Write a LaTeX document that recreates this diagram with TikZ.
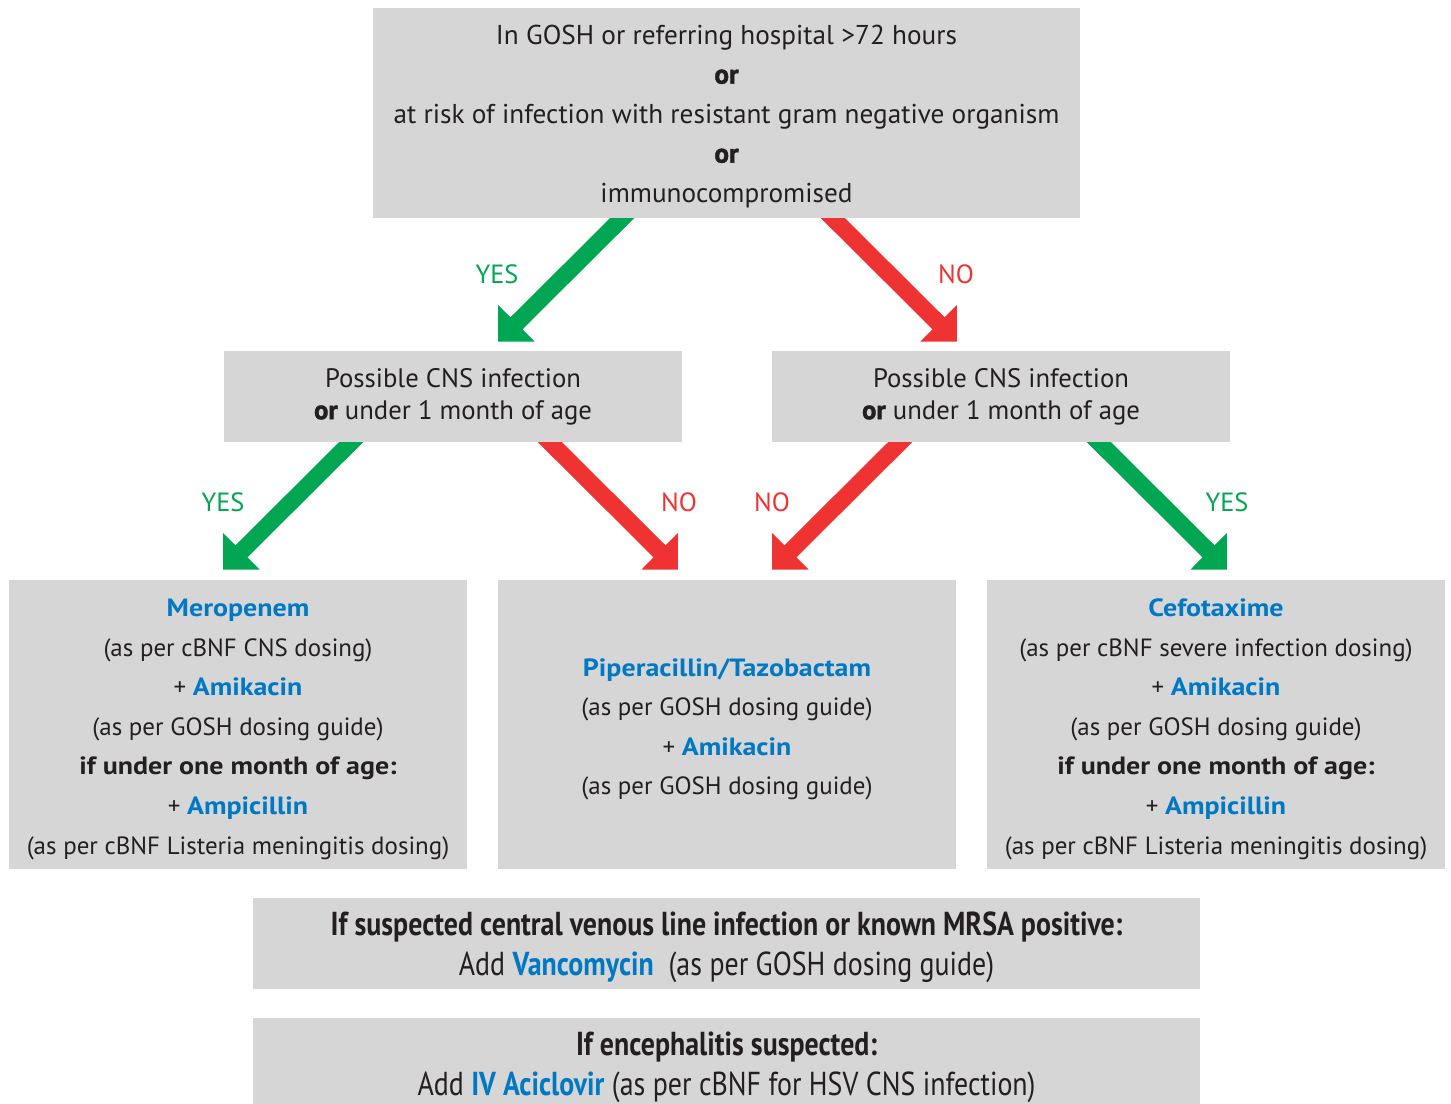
\documentclass[tikz,border=0pt]{standalone}
\usepackage{fontspec}
\setmainfont{PT Sans}
\newfontfamily\condfont[FakeStretch=0.84]{PT Sans}
\newfontfamily\widefont[FakeStretch=1.12]{PT Sans}
\newfontfamily\heavyfont[BoldFeatures={FakeBold=1.6}]{PT Sans}
\usetikzlibrary{arrows.meta,backgrounds}

\definecolor{boxgray}{RGB}{214,214,214}
\definecolor{yesgreen}{RGB}{0,166,81}
\definecolor{nored}{RGB}{239,50,50}
\definecolor{drugblue}{RGB}{0,120,195}
\definecolor{txt}{RGB}{35,31,32}
\newcommand{\drug}[1]{\textcolor{drugblue}{\widefont\bfseries #1}}
\newcommand{\boldline}[1]{{\widefont\bfseries #1}}
\newcommand{\heavyor}{{\heavyfont\bfseries or}}
\newcommand{\topgap}[1]{\rule{0pt}{#1}}

\begin{document}
\begin{tikzpicture}[x=0.02cm, y=-0.02cm,
  every node/.style={text=txt, font=\fontsize{14.2}{22.5}\selectfont},
  box/.style={fill=boxgray, inner sep=0pt, align=center},
  yesarrow/.style={draw=yesgreen, line width=0.34cm, -{Triangle[length=0.52cm, width=1.0cm]}},
  noarrow/.style={draw=nored, line width=0.34cm, -{Triangle[length=0.52cm, width=1.0cm]}},
  yeslabel/.style={text=yesgreen, font=\fontsize{15}{18}\selectfont},
  nolabel/.style={text=nored, font=\fontsize{15}{18}\selectfont}]

\useasboundingbox (0,0) rectangle (1451,1104);

% Question
\node[box, minimum width=14.14cm, minimum height=4.2cm, font=\fontsize{15.5}{22.5}\selectfont] (risk) at (726.5,113)
  {\topgap{14.6pt}In GOSH or referring hospital >72 hours\\ \heavyor\\
   at risk of infection with resistant gram negative organism\\ \heavyor\\
   immunocompromised};

% CNS questions
\node[box, minimum width=9.16cm, minimum height=1.82cm, font=\fontsize{15.2}{18.2}\selectfont] (cnsL) at (453,396.5)
  {Possible CNS infection\\ \heavyor{} under 1 month of age};
\node[box, minimum width=9.16cm, minimum height=1.82cm, font=\fontsize{15.2}{18.2}\selectfont] (cnsR) at (1001,396.5)
  {Possible CNS infection\\ \heavyor{} under 1 month of age};

% Treatments
\node[box, minimum width=9.16cm, minimum height=5.78cm] (merop) at (238,724.5)
  {\topgap{15.6pt}\drug{Meropenem}\\ (as per cBNF CNS dosing)\\ + \drug{Amikacin}\\
   (as per GOSH dosing guide)\\ \boldline{if under one month of age:}\\
   + \drug{Ampicillin}\\ (as per cBNF Listeria meningitis dosing)};
\node[box, minimum width=9.16cm, minimum height=5.78cm] (pip) at (727,724.5)
  {\topgap{15.8pt}\drug{Piperacillin/Tazobactam}\\ (as per GOSH dosing guide)\\
   + \drug{Amikacin}\\ (as per GOSH dosing guide)};
\node[box, minimum width=9.16cm, minimum height=5.78cm] (cefo) at (1216,724.5)
  {\topgap{15.6pt}\drug{Cefotaxime}\\ (as per cBNF severe infection dosing)\\ + \drug{Amikacin}\\
   (as per GOSH dosing guide)\\ \boldline{if under one month of age:}\\
   + \drug{Ampicillin}\\ (as per cBNF Listeria meningitis dosing)};

% Additions
\node[box, minimum width=18.94cm, minimum height=1.82cm, font=\condfont\fontsize{18.9}{22.8}\selectfont] (vanco) at (726.5,943.5)
  {\topgap{18.2pt}\textbf{If suspected central venous line infection or known MRSA positive:}\\
   Add \textcolor{drugblue}{\textbf{Vancomycin}}\ \ (as per GOSH dosing guide)};
\node[box, minimum width=18.94cm, minimum height=1.82cm, font=\condfont\fontsize{18.9}{22.8}\selectfont] (acic) at (726.5,1063.5)
  {\topgap{18.2pt}\textbf{If encephalitis suspected:}\\
   Add \textcolor{drugblue}{\textbf{IV Aciclovir}} (as per cBNF for HSV CNS infection)};

% Arrows
\begin{scope}[on background layer]
\draw[yesarrow] ([shift={(-95.5,-9)}]risk.south) -- ([shift={(45,-9)}]cnsL.north);
\draw[noarrow] ([shift={(97.5,-9)}]risk.south) -- ([shift={(-44,-9)}]cnsR.north);
\draw[yesarrow] ([shift={(-93,-9)}]cnsL.south) -- ([shift={(-15,-10)}]merop.north);
\draw[noarrow] ([shift={(88,-9)}]cnsL.south) -- ([shift={(-49,-10)}]pip.north);
\draw[noarrow] ([shift={(-92,-9)}]cnsR.south) -- ([shift={(45,-10)}]pip.north);
\draw[yesarrow] ([shift={(89,-9)}]cnsR.south) -- ([shift={(11,-10)}]cefo.north);
\end{scope}

% Labels
\node[yeslabel] (y1) at (497,274) {YES};
\node[nolabel] (n1) at (956,274) {NO};
\node[yeslabel] (y2) at (223,502) {YES};
\node[nolabel] (n2) at (679,502) {NO};
\node[nolabel] (n3) at (772,502) {NO};
\node[yeslabel] (y3) at (1227,502) {YES};

\end{tikzpicture}
\end{document}
